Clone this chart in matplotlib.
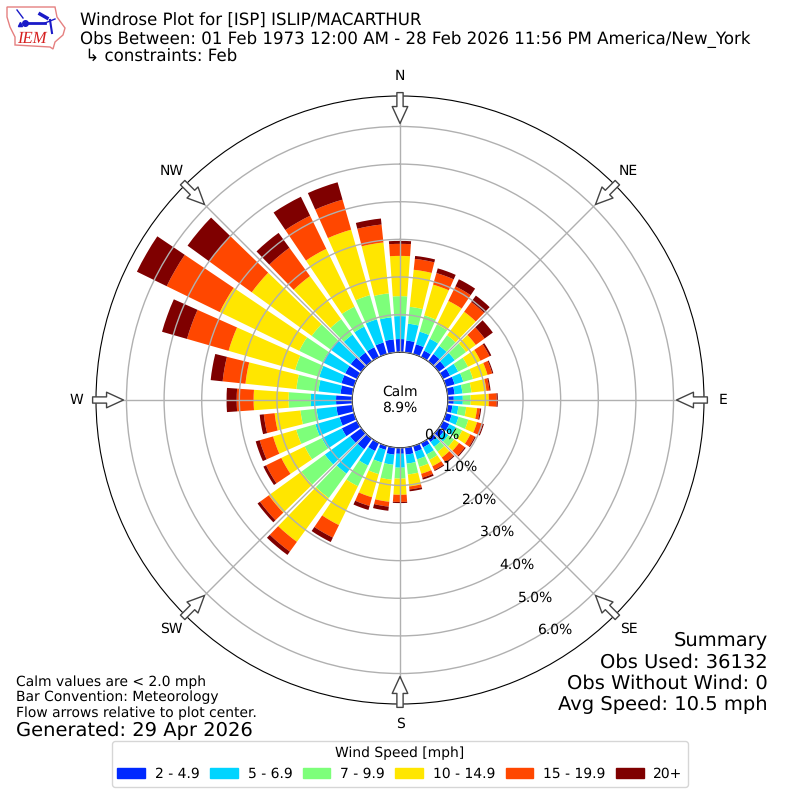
import numpy as np
import matplotlib
matplotlib.use("Agg")
import matplotlib.pyplot as plt
from matplotlib.patches import Patch, Polygon

plt.rcParams["text.hinting"] = "none"

# percent of obs per direction bin, 0 to 350 deg every 10
directions = np.arange(0, 360, 10)
speed_2_5 = [.35, .32, .27, .19, .24, .21, .21, .24, .19, .16, .13, .16, .19, .16, .11, .13, .16, .19,
             .16, .19, .11, .24, .35, .37, .45, .40, .43, .43, .32, .35, .35, .35, .29, .29, .32, .35]
speed_5_7 = [.61, .45, .35, .35, .27, .32, .24, .24, .21, .24, .16, .19, .19, .16, .16, .21, .21, .24,
             .37, .27, .35, .43, .80, .83, .59, .67, .53, .67, .59, .61, .67, .67, .59, .61, .64, .59]
speed_7_10 = [.53, .45, .45, .43, .35, .37, .29, .27, .24, .21, .21, .27, .19, .19, .16, .16, .21, .29,
              .29, .40, .32, .61, .80, .77, .51, .53, .43, .59, .59, .67, .69, .61, .51, .59, .67, .64]
speed_10_15 = [1.07, .99, .85, .69, .77, .32, .37, .40, .40, .48, .29, .24, .24, .16, .19, .19, .19, .32,
               .43, .59, .64, 1.15, 1.44, 1.07, .69, .64, .69, .93, 1.36, 1.84, 2.35, 1.97, 1.41, 1.71, 1.81, 1.36]
speed_15_20 = [.32, .29, .32, .43, .32, .29, .27, .13, .08, .21, .08, .16, .13, .19, .16, .11, .11, .08,
               .19, .13, .24, .37, .32, .29, .45, .37, .29, .45, .61, 1.15, 1.57, 1.39, .93, .98, .83, .48]
speed_20 = [.08, .08, .13, .21, .21, .27, .05, .03, .03, .03, .03, .03, .03, .03, .03, .03, .05, .05,
            .03, .11, .11, .13, .11, .08, .08, .11, .11, .27, .32, .69, .88, .72, .49, .56, .48, .16]

speed_bins = [speed_2_5, speed_5_7, speed_7_10, speed_10_15, speed_15_20, speed_20]
speed_labels = ["2 - 4.9", "5 - 6.9", "7 - 9.9", "10 - 14.9", "15 - 19.9", "20+"]
colors = ["#0029ff", "#00d4ff", "#7dff7a", "#ffe600", "#ff4700", "#7f0000"]

r_ticks = [0, 1, 2, 3, 4, 5, 6]
compass_angles = [0, 45, 90, 135, 180, 225, 270, 315]
compass_labels = ["N", "NE", "E", "SE", "S", "SW", "W", "NW"]

fig = plt.figure(figsize=(8, 8), dpi=100)
ax = fig.add_axes([96 / 800, 96 / 800, 608 / 800, 608 / 800], projection="polar")
ax.set_theta_zero_location("N")
ax.set_theta_direction(-1)

bottom = np.zeros(len(directions))
for vals, color in zip(speed_bins, colors):
    ax.bar(np.deg2rad(directions), vals, width=np.deg2rad(8), bottom=bottom, color=color, linewidth=0)
    bottom += np.array(vals)

ax.set_rorigin(-1.27)
ax.set_rlim(0, 6.81)
ax.set_axisbelow(False)
ax.grid(True, color="#b0b0b0", linewidth=1)
ax.set_rticks(r_ticks)
ax.set_yticklabels(["%.1f%%" % t for t in r_ticks], fontsize=10)
ax.set_rlabel_position(150)
ax.set_xticks(np.deg2rad(compass_angles))
ax.set_xticklabels(compass_labels, fontsize=10)
ax.tick_params(axis="x", pad=3.5)

# flow arrows on the outer ring
for ang in compass_angles:
    ax.annotate("", xy=(np.deg2rad(ang), 6.08), xytext=(np.deg2rad(ang), 6.9),
                annotation_clip=False,
                arrowprops=dict(arrowstyle="simple,head_length=0.87,head_width=0.8,tail_width=0.32",
                                fc="white", ec="#444444", lw=1, shrinkA=0, shrinkB=0, mutation_scale=14),
                zorder=6)

ax.text(0.5, 0.5, "Calm\n8.9%", transform=ax.transAxes, ha="center", va="center", fontsize=10, zorder=7)

fig.text(80 / 800, 1 - 13 / 800,
         "Windrose Plot for [ISP] ISLIP/MACARTHUR\n"
         "Obs Between: 01 Feb 1973 12:00 AM - 28 Feb 2026 11:56 PM America/New_York\n"
         " \u21b3 constraints: Feb",
         fontsize=12, va="top", ha="left", linespacing=1.1)

fig.text(16 / 800, 1 - 675 / 800,
         "Calm values are < 2.0 mph\nBar Convention: Meteorology\nFlow arrows relative to plot center.",
         fontsize=10, va="top", ha="left")
fig.text(16 / 800, 1 - 722 / 800, "Generated: 29 Apr 2026", fontsize=14, va="top", ha="left")
fig.text(768 / 800, 1 - 632 / 800,
         "Summary\nObs Used: 36132\nObs Without Wind: 0\nAvg Speed: 10.5 mph",
         fontsize=14, va="top", ha="right", linespacing=1.2)

handles = [Patch(color=c, label=l) for c, l in zip(colors, speed_labels)]
fig.legend(handles=handles, title="Wind Speed [mph]", ncol=6, fontsize=10, title_fontsize=10,
           loc="lower center", bbox_to_anchor=(0.5, 13.5 / 800), borderaxespad=0,
           handlelength=2, handletextpad=0.7, columnspacing=0.75)

# IEM logo, roughly
logo = fig.add_axes([0, 1 - 60 / 800, 80 / 800, 60 / 800])
logo.set_xlim(0, 80)
logo.set_ylim(60, 0)
logo.axis("off")
logo.add_patch(Polygon([(7, 7), (55, 7), (57, 17), (65, 28), (63, 35), (55, 42), (53, 49), (50, 47),
                        (15, 45), (15, 37), (10, 27), (7, 17)], closed=True, fc="white", ec="#e58080", lw=1))
logo.plot([25, 45], [23, 23], color="#1a1ac8", lw=2)
logo.plot([25], [23], "o", color="#1a1ac8", ms=4)
logo.plot([45, 55], [23, 19], color="#1a1ac8", lw=1)
logo.plot([17, 23], [10, 18], color="#1a1ac8", lw=1)
logo.plot([40, 47], [14, 18], color="#1a1ac8", lw=2.5)
logo.plot([50, 52], [20, 33], color="#1a1ac8", lw=1.5)
logo.plot([20], [24], "^", color="#1a1ac8", ms=3)
logo.text(17, 43, "IEM", color="#d62020", fontsize=12, family="Liberation Serif", style="italic")

fig.savefig("out.png", dpi=100)
